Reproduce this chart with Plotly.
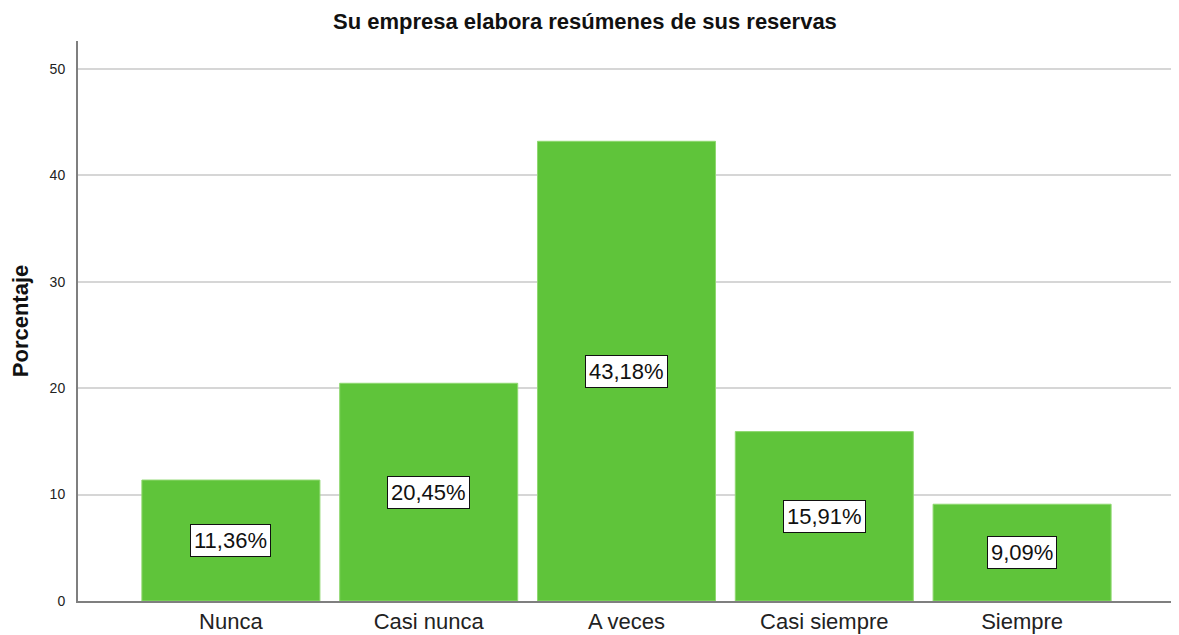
import plotly.graph_objects as go

categorias = ["Nunca", "Casi nunca", "A veces", "Casi siempre", "Siempre"]
porcentajes = [11.36, 20.45, 43.18, 15.91, 9.09]
ticks_y = [0, 10, 20, 30, 40, 50]

verde = "#5fc43a"

fig = go.Figure()
fig.add_trace(go.Bar(
    x=categorias,
    y=porcentajes,
    width=0.9,
    marker=dict(color=verde, line=dict(color="#8fd870", width=1)),
    hoverinfo="skip",
))

# etiquetas en el centro de cada barra
for cat, val in zip(categorias, porcentajes):
    fig.add_annotation(
        x=cat, y=val / 2,
        text=f"{val:.2f}".replace(".", ",") + "%",
        showarrow=False,
        font=dict(family="Liberation Sans, Arial", size=22, color="#111"),
        bgcolor="white",
        bordercolor="#111",
        borderwidth=1,
        borderpad=3,
    )

# la página añade 8px de margen, así que la figura es algo más pequeña
fig.update_layout(
    width=1171, height=627,
    margin=dict(l=70, r=4, t=33, b=34),
    plot_bgcolor="white",
    paper_bgcolor="white",
    showlegend=False,
    title=dict(
        text="<b>Su empresa elabora resúmenes de sus reservas</b>",
        x=0.4927, xanchor="center", y=0.978, yanchor="middle",
        font=dict(family="Liberation Sans, Arial", size=22, color="#111"),
    ),
    font=dict(family="Liberation Sans, Arial", color="#222"),
)
fig.update_xaxes(
    range=[-0.773, 4.773],
    showline=True, linecolor="#7f7f7f", linewidth=2,
    ticks="", showgrid=False, automargin=False,
    tickfont=dict(size=22, color="#222"),
)
fig.update_yaxes(
    range=[0, 52.6],
    tickvals=ticks_y,
    showline=True, linecolor="#7f7f7f", linewidth=2,
    showgrid=True, gridcolor="#d6d6d6", gridwidth=2,
    zeroline=False, automargin=False,
    ticks="", ticklabelstandoff=8,
    tickfont=dict(size=14, color="#222"),
    title=dict(text="<b>Porcentaje</b>", font=dict(size=22, color="#111"), standoff=18),
)

fig.write_html("out.html")
